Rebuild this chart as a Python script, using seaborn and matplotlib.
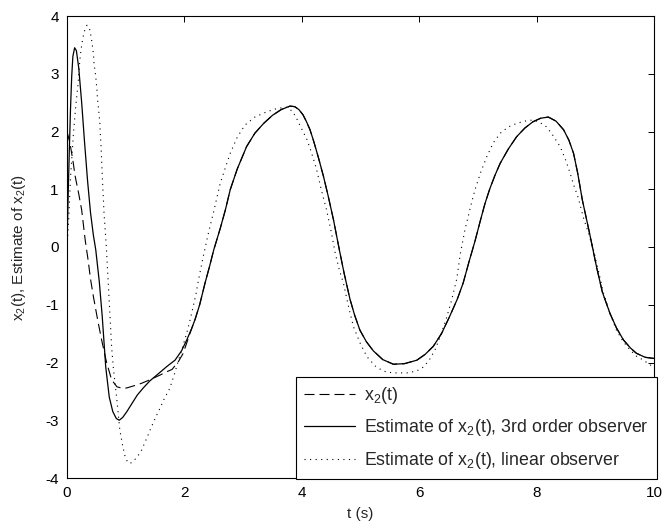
import numpy as np
import pandas as pd
import matplotlib
matplotlib.use("Agg")
import matplotlib.pyplot as plt
import seaborn as sns

# ---- data ----
t_obs3 = [0.00, 0.02, 0.04, 0.06, 0.08, 0.10, 0.13, 0.16, 0.20, 0.25, 0.30, 0.35, 0.40, 0.45,
          0.49, 0.55, 0.60, 0.66, 0.72, 0.78, 0.84, 0.89, 0.95, 1.02, 1.10, 1.20, 1.30, 1.41,
          1.55, 1.70, 1.84, 1.95, 2.04, 2.12, 2.18, 2.26, 2.35, 2.43, 2.50, 2.61, 2.70, 2.78,
          2.90, 3.06, 3.20, 3.35, 3.50, 3.65, 3.80, 3.88, 3.95, 4.02, 4.08, 4.14, 4.20, 4.28,
          4.37, 4.45, 4.54, 4.64, 4.72, 4.82, 4.90, 4.99, 5.10, 5.22, 5.38, 5.56, 5.75, 5.96,
          6.10, 6.24, 6.38, 6.52, 6.65, 6.75, 6.85, 6.95, 7.04, 7.12, 7.20, 7.29, 7.38, 7.52,
          7.66, 7.80, 7.94, 8.07, 8.20, 8.33, 8.46, 8.55, 8.63, 8.70, 8.78, 8.90, 9.02, 9.12,
          9.25, 9.36, 9.48, 9.60, 9.70, 9.85, 10.00]
y_obs3 = [0.00, 0.90, 1.70, 2.40, 2.95, 3.30, 3.45, 3.40, 3.10, 2.50, 1.80, 1.15, 0.60, 0.20,
          -0.05, -0.60, -1.20, -2.08, -2.60, -2.85, -2.97, -3.00, -2.95, -2.85, -2.72, -2.56, -2.44, -2.32,
          -2.20, -2.07, -1.96, -1.80, -1.61, -1.42, -1.26, -1.00, -0.63, -0.33, -0.05, 0.32, 0.65, 0.99,
          1.35, 1.74, 1.97, 2.14, 2.28, 2.38, 2.44, 2.43, 2.38, 2.29, 2.17, 2.03, 1.84, 1.56,
          1.22, 0.88, 0.47, -0.05, -0.45, -0.90, -1.18, -1.44, -1.64, -1.80, -1.95, -2.03, -2.02, -1.96,
          -1.86, -1.72, -1.50, -1.20, -0.90, -0.62, -0.25, 0.10, 0.45, 0.75, 1.00, 1.24, 1.45, 1.70,
          1.91, 2.06, 2.17, 2.23, 2.25, 2.18, 2.03, 1.85, 1.62, 1.28, 0.81, 0.25, -0.34, -0.78,
          -1.15, -1.40, -1.61, -1.75, -1.84, -1.91, -1.93]

t_x2_early = [0.00, 0.05, 0.10, 0.14, 0.20, 0.25, 0.31, 0.36, 0.40, 0.45, 0.52, 0.59, 0.67,
              0.76, 0.85, 0.95, 1.02, 1.15, 1.27, 1.41, 1.58, 1.70, 1.79, 1.90, 1.98, 2.10]
y_x2_early = [2.00, 1.80, 1.50, 1.22, 0.92, 0.64, 0.12, -0.23, -0.55, -0.86, -1.25, -1.61, -1.98,
              -2.30, -2.42, -2.45, -2.44, -2.40, -2.36, -2.30, -2.22, -2.16, -2.12, -1.98, -1.84, -1.48]

t_lin = [0.00, 0.03, 0.06, 0.11, 0.15, 0.19, 0.22, 0.25, 0.29, 0.34, 0.39, 0.42, 0.45, 0.46,
         0.49, 0.51, 0.52, 0.54, 0.56, 0.57, 0.58, 0.60, 0.63, 0.67, 0.70, 0.73, 0.76, 0.79,
         0.85, 0.90, 0.95, 0.99, 1.03, 1.07, 1.12, 1.20, 1.27, 1.35, 1.44, 1.51, 1.58, 1.66,
         1.75, 1.83, 1.90, 1.97, 2.04, 2.10, 2.15, 2.20, 2.24, 2.32, 2.40, 2.50, 2.61, 2.70,
         2.78, 2.90, 3.03, 3.20, 3.40, 3.58, 3.74, 3.84, 3.91, 3.97, 4.08, 4.16, 4.25, 4.33,
         4.42, 4.50, 4.57, 4.64, 4.71, 4.80, 4.88, 5.00, 5.11, 5.25, 5.39, 5.55, 5.79, 5.95,
         6.07, 6.17, 6.27, 6.37, 6.47, 6.55, 6.64, 6.70, 6.78, 6.89, 6.95, 7.05, 7.15, 7.26,
         7.38, 7.52, 7.66, 7.80, 7.94, 8.05, 8.17, 8.28, 8.40, 8.49, 8.57, 8.64, 8.71, 8.80,
         8.89, 8.97, 9.05, 9.14, 9.25, 9.36, 9.47, 9.59, 9.70, 9.82, 9.93, 10.00]
y_lin = [0.00, 0.50, 1.20, 1.97, 2.45, 2.84, 3.25, 3.50, 3.72, 3.84, 3.76, 3.58, 3.35, 3.18,
         2.95, 2.72, 2.55, 2.37, 2.14, 1.91, 1.74, 1.25, 0.60, 0.00, -0.57, -1.15, -1.73, -2.10,
         -2.65, -3.17, -3.45, -3.63, -3.72, -3.75, -3.72, -3.63, -3.52, -3.33, -3.11, -2.95, -2.80, -2.62,
         -2.45, -2.20, -1.96, -1.73, -1.49, -1.25, -1.03, -0.80, -0.57, -0.17, 0.20, 0.62, 1.10, 1.38,
         1.62, 1.90, 2.11, 2.25, 2.34, 2.40, 2.42, 2.35, 2.23, 2.10, 1.88, 1.65, 1.35, 1.00,
         0.65, 0.27, -0.11, -0.40, -0.63, -1.05, -1.38, -1.68, -1.90, -2.06, -2.15, -2.18, -2.18, -2.15,
         -2.08, -1.96, -1.78, -1.52, -1.21, -0.93, -0.55, -0.12, 0.30, 0.76, 0.99, 1.30, 1.56, 1.80,
         1.97, 2.08, 2.14, 2.18, 2.20, 2.16, 2.08, 1.93, 1.74, 1.52, 1.28, 1.05, 0.85, 0.50,
         0.22, -0.05, -0.40, -0.80, -1.15, -1.44, -1.63, -1.78, -1.89, -1.96, -2.04, -2.07]

# true x2 follows the 3rd-order estimate after it converges (curves coincide)
t_x2 = t_x2_early + [t for t in t_obs3 if t > 2.15]
y_x2 = y_x2_early + [y for t, y in zip(t_obs3, y_obs3) if t > 2.15]

labels = ["x$\\mathregular{_2}$(t)",
          "Estimate of x$\\mathregular{_2}$(t), 3rd order observer",
          "Estimate of x$\\mathregular{_2}$(t), linear observer"]
x_ticks = [0, 2, 4, 6, 8, 10]
y_ticks = [-4, -3, -2, -1, 0, 1, 2, 3, 4]

# ---- style ----
sns.set_style("white")
plt.rcParams["font.family"] = ["Liberation Sans", "DejaVu Sans"]
plt.rcParams["axes.unicode_minus"] = False
plt.rcParams["font.size"] = 11

fig = plt.figure(figsize=(6.66, 5.25), dpi=100)
ax = fig.add_axes([67 / 666, 47 / 525, 587 / 666, 462 / 525])

sns.lineplot(x=t_x2, y=y_x2, ax=ax, color="black", linewidth=0.8, label=labels[0], sort=False)
ax.lines[-1].set_linestyle((0, (9, 4.5)))
sns.lineplot(x=t_obs3, y=y_obs3, ax=ax, color="black", linewidth=0.9, label=labels[1], sort=False)
sns.lineplot(x=t_lin, y=y_lin, ax=ax, color="black", linewidth=0.8, label=labels[2], sort=False)
ax.lines[-1].set_linestyle((0, (1, 4)))

ax.set_xlim(0, 10)
ax.set_ylim(-4, 4)
ax.set_xticks(x_ticks)
ax.set_yticks(y_ticks)
ax.tick_params(direction="in", length=4, width=0.7, top=True, right=True,
               labelsize=11, colors="black", pad=6)
for s in ax.spines.values():
    s.set_visible(True)
    s.set_color("black")
    s.set_linewidth(0.8)
ax.set_xlabel("t (s)", fontsize=11, labelpad=5)
ax.set_ylabel("x$\\mathregular{_2}$(t), Estimate of x$\\mathregular{_2}$(t)", fontsize=11, labelpad=12)

leg = ax.legend(loc="lower right", bbox_to_anchor=(1.005, -0.002), frameon=True, fancybox=False,
                edgecolor="black", framealpha=1, borderaxespad=0, handlelength=2.9,
                labelspacing=0.65, borderpad=0.45, handletextpad=0.5, fontsize=12.8)
leg.get_frame().set_linewidth(0.8)

fig.savefig("out.png", dpi=100)
